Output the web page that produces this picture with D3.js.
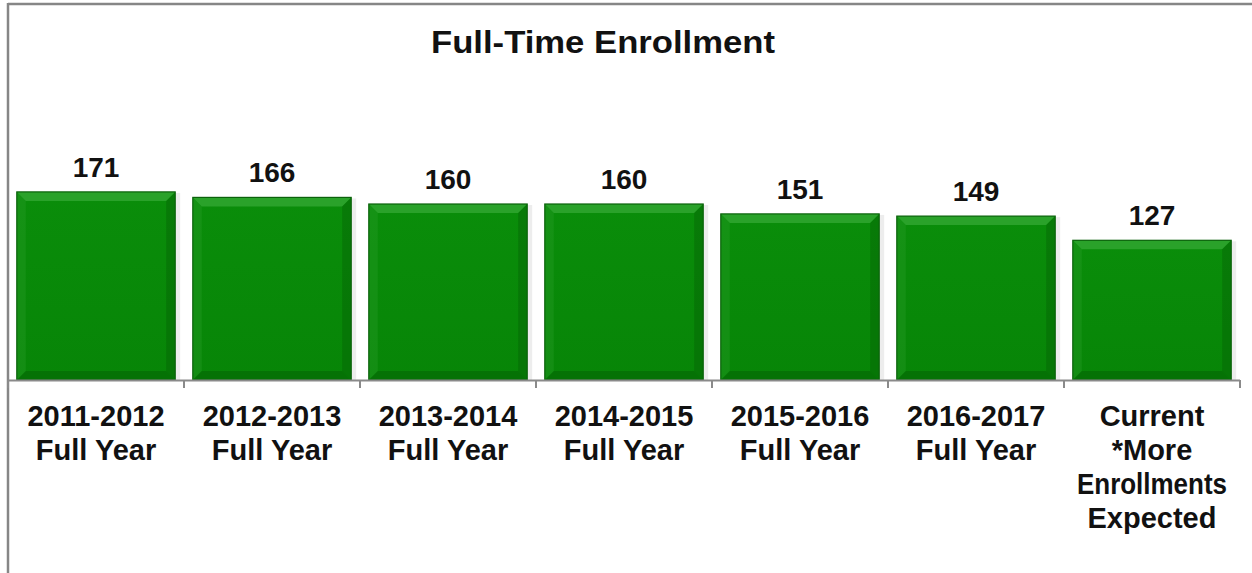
<!DOCTYPE html>
<html><head><meta charset="utf-8">
<script src="https://cdn.jsdelivr.net/npm/d3@7"></script>
<style>body{margin:0;background:#fff}svg{display:block}text{font-family:"Liberation Sans",Arial,sans-serif;font-weight:bold;fill:#111}</style>
</head><body><svg id="c" width="1252" height="573"></svg>
<script>
const categories = [
  ["2011-2012","Full Year"],
  ["2012-2013","Full Year"],
  ["2013-2014","Full Year"],
  ["2014-2015","Full Year"],
  ["2015-2016","Full Year"],
  ["2016-2017","Full Year"],
  ["Current","*More","Enrollments","Expected"]
];
const values = [171,166,160,160,151,149,127];
const title = "Full-Time Enrollment";

const svg = d3.select("#c");
const left = 8, right = 1240, base = 380;
const x = d3.scaleBand().domain(d3.range(values.length)).range([left,right]).paddingInner(0.1).paddingOuter(0.05);
const y = d3.scaleLinear().domain([0,200]).range([base, base-220]);

// frame
svg.append("line").attr("x1",left).attr("x2",left).attr("y1",3).attr("y2",573).attr("stroke","#868686").attr("stroke-width",2.5);
svg.append("line").attr("x1",left).attr("x2",1252).attr("y1",4).attr("y2",4).attr("stroke","#868686").attr("stroke-width",2.5);

svg.append("text").attr("x",603).attr("y",53).attr("text-anchor","middle").attr("font-size",31)
  .attr("textLength",344).attr("lengthAdjust","spacingAndGlyphs").text(title);

const defs = svg.append("defs");
const g = defs.append("linearGradient").attr("id","gv").attr("x1",0).attr("x2",0).attr("y1",0).attr("y2",1);
g.append("stop").attr("offset","0%").attr("stop-color","#0a8d0a");
g.append("stop").attr("offset","100%").attr("stop-color","#078507");

const bars = svg.append("g").selectAll("g").data(values).join("g");
bars.each(function(v,i){
  const sel = d3.select(this);
  const x0 = x(i), w = x.bandwidth(), y0 = y(v), y1 = y(0), h = y1-y0, b = 9;
  sel.append("rect").attr("x",x0+2).attr("y",y0+1).attr("width",w+3).attr("height",h).attr("fill","#000").attr("opacity",0.07);
  sel.append("rect").attr("x",x0).attr("y",y0).attr("width",w).attr("height",h).attr("fill","url(#gv)");
  sel.append("path").attr("d",`M${x0},${y0}L${x0+w},${y0}L${x0+w-b},${y0+b}L${x0+b},${y0+b}Z`).attr("fill","#45b545").attr("opacity",0.55);
  sel.append("path").attr("d",`M${x0},${y0}L${x0+b},${y0+b}L${x0+b},${y1-b}L${x0},${y1}Z`).attr("fill","#2a9f2a").attr("opacity",0.35);
  sel.append("path").attr("d",`M${x0+w},${y0}L${x0+w},${y1}L${x0+w-b},${y1-b}L${x0+w-b},${y0+b}Z`).attr("fill","#045f04").attr("opacity",0.4);
  sel.append("path").attr("d",`M${x0},${y1}L${x0+w},${y1}L${x0+w-b},${y1-b}L${x0+b},${y1-b}Z`).attr("fill","#045a04").attr("opacity",0.45);
  sel.append("rect").attr("x",x0).attr("y",y0).attr("width",w).attr("height",h).attr("fill","none").attr("stroke","#0b620b").attr("stroke-width",1.2);
  sel.append("text").attr("x",x0+w/2).attr("y",y0-15).attr("text-anchor","middle").attr("font-size",28).text(v);
});

// axis
svg.append("line").attr("x1",left).attr("x2",right).attr("y1",base+0.5).attr("y2",base+0.5).attr("stroke","#8a8a8a").attr("stroke-width",2);
d3.range(values.length+1).forEach(k=>{
  const xx = left + (right-left)*k/values.length;
  svg.append("line").attr("x1",xx).attr("x2",xx).attr("y1",base).attr("y2",base+8).attr("stroke","#8a8a8a").attr("stroke-width",2);
});

// category labels
categories.forEach((lines,i)=>{
  const cx = x(i)+x.bandwidth()/2;
  const t = svg.append("text").attr("text-anchor","middle").attr("font-size",29);
  lines.forEach((ln,j)=>{
    const s = t.append("tspan").attr("x",cx).attr("y",426+34*j).text(ln);
    if (ln === "Enrollments") s.attr("textLength",150).attr("lengthAdjust","spacingAndGlyphs");
  });
});
</script></body></html>
